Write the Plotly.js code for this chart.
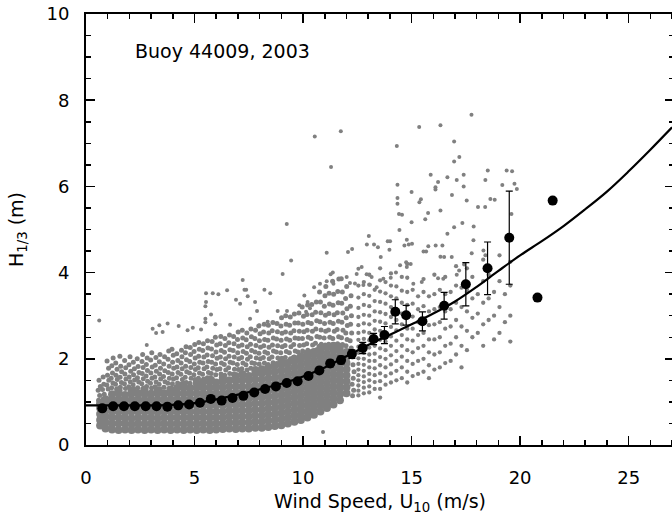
<!DOCTYPE html>
<html>
<head>
<meta charset="utf-8">
<script src="https://cdn.plot.ly/plotly-3.0.1.min.js"></script>
<style>html,body{margin:0;padding:0;background:#fff;overflow:hidden;}#chart{width:674px;height:524px;}</style>
</head>
<body>
<div id="chart"></div>
<script>
// ---- Binned means (black dots) with error bars ----
const binU = [0.75,1.25,1.75,2.25,2.75,3.25,3.75,4.25,4.75,5.25,5.75,6.25,6.75,7.25,7.75,8.25,8.75,9.25,9.75,10.25,10.75,11.25,11.75,12.25,12.75,13.25,13.75,14.25,14.75,15.5,16.5,17.5,18.5,19.5,20.8,21.5];
const binH = [0.85,0.90,0.90,0.90,0.90,0.90,0.89,0.92,0.94,0.98,1.07,1.03,1.09,1.14,1.22,1.30,1.36,1.44,1.48,1.60,1.73,1.89,1.97,2.11,2.25,2.46,2.55,3.09,3.01,2.87,3.23,3.73,4.10,4.81,3.42,5.67];
const binErr = [0.03,0.02,0.02,0.02,0.02,0.02,0.02,0.02,0.02,0.02,0.02,0.03,0.03,0.03,0.03,0.04,0.04,0.05,0.05,0.06,0.07,0.08,0.09,0.10,0.13,0.13,0.20,0.28,0.23,0.22,0.31,0.50,0.61,1.08,0,0];

// ---- Fitted curve ----
const fitU = [0,1,2,3,4,5,6,7,8,9,10,11,12,13,14,15,16,17,18,19,20,21,22,23,24,25,26,27];
const fitH = [0.92,0.92,0.92,0.92,0.93,0.97,1.06,1.17,1.29,1.42,1.59,1.80,2.06,2.32,2.56,2.80,3.05,3.33,3.67,4.04,4.40,4.73,5.08,5.47,5.88,6.35,6.85,7.37];

// ---- Scatter cloud: dense core (columns of wind speed -> wave heights) ----
const coreCols = [0.65,0.9,1.2,1.5,1.8,2.1,2.4,2.7,3.0,3.3,3.6,3.9,4.2,4.5,4.8,5.1,5.4,5.7,6.0,6.3,6.6,6.9,7.2,7.5,7.8,8.1,8.4,8.7,9.0,9.3,9.6,9.9,10.2,10.5,10.8,11.1,11.4,11.7,12.0];
const coreYs = [
 [0.45,0.58,0.72,0.86,0.97],
 [0.38,0.52,0.66,0.8,0.95,1.06],
 [0.36,0.49,0.63,0.77,0.91,1.05,1.18],
 [0.35,0.5,0.64,0.78,0.92,1.06,1.2,1.27],
 [0.36,0.5,0.63,0.76,0.9,1.04,1.16],
 [0.35,0.48,0.62,0.77,0.91,1.05,1.19,1.26],
 [0.36,0.5,0.64,0.78,0.92,1.06,1.2],
 [0.35,0.49,0.63,0.77,0.9,1.04,1.18,1.28],
 [0.36,0.5,0.64,0.78,0.92,1.06,1.19],
 [0.35,0.49,0.62,0.76,0.9,1.05,1.19,1.27],
 [0.36,0.5,0.64,0.78,0.92,1.06,1.2],
 [0.35,0.49,0.63,0.77,0.91,1.05,1.19,1.29],
 [0.36,0.5,0.64,0.78,0.92,1.06,1.2,1.32],
 [0.35,0.49,0.63,0.77,0.91,1.05,1.19,1.33,1.4],
 [0.36,0.5,0.64,0.78,0.92,1.06,1.2,1.32],
 [0.35,0.49,0.63,0.77,0.91,1.05,1.19,1.33,1.44],
 [0.36,0.5,0.64,0.78,0.92,1.06,1.2,1.34,1.46],
 [0.35,0.49,0.63,0.77,0.91,1.05,1.19,1.33,1.47,1.52],
 [0.36,0.5,0.64,0.78,0.92,1.06,1.2,1.34,1.45],
 [0.37,0.5,0.64,0.78,0.92,1.06,1.2,1.34,1.48,1.56],
 [0.38,0.52,0.66,0.8,0.94,1.08,1.22,1.36,1.5],
 [0.37,0.51,0.65,0.79,0.93,1.07,1.21,1.35,1.49,1.6],
 [0.38,0.52,0.66,0.8,0.94,1.08,1.22,1.36,1.5,1.64],
 [0.38,0.52,0.66,0.8,0.94,1.08,1.22,1.36,1.5,1.6],
 [0.4,0.54,0.68,0.82,0.96,1.1,1.24,1.38,1.52,1.66,1.74],
 [0.4,0.54,0.68,0.82,0.96,1.1,1.24,1.38,1.52,1.66,1.76],
 [0.42,0.56,0.7,0.84,0.98,1.12,1.26,1.4,1.54,1.68,1.8],
 [0.44,0.58,0.72,0.86,1.0,1.14,1.28,1.42,1.56,1.7,1.84],
 [0.46,0.6,0.74,0.88,1.02,1.16,1.3,1.44,1.58,1.72,1.86,1.94],
 [0.5,0.64,0.78,0.92,1.06,1.2,1.34,1.48,1.62,1.76,1.9],
 [0.54,0.68,0.82,0.96,1.1,1.24,1.38,1.52,1.66,1.8,1.94,2.0],
 [0.58,0.72,0.86,1.0,1.14,1.28,1.42,1.56,1.7,1.84,1.98,2.06],
 [0.64,0.78,0.92,1.06,1.2,1.34,1.48,1.62,1.76,1.9,2.04,2.12],
 [0.7,0.84,0.98,1.12,1.26,1.4,1.54,1.68,1.82,1.96,2.1,2.16],
 [0.78,0.92,1.06,1.2,1.34,1.48,1.62,1.76,1.9,2.04,2.18,2.26],
 [0.86,1.0,1.14,1.28,1.42,1.56,1.7,1.84,1.98,2.12,2.26],
 [0.94,1.08,1.22,1.36,1.5,1.64,1.78,1.92,2.06,2.2,2.3],
 [1.04,1.18,1.32,1.46,1.6,1.74,1.88,2.02,2.16,2.28],
 [1.2,1.34,1.48,1.62,1.76,1.9,2.04,2.16]
];

// ---- Scatter cloud: speckled fringe above the core (U, H pairs) ----
const frU = [0.58,0.63,0.56,0.66,0.6, 0.78,0.84,0.76,0.82,0.79, 1.02,0.96,1.05,0.99,1.04,0.97, 1.18,1.24,1.16,1.22,1.19,1.25, 1.41,1.36,1.44,1.38,1.43,1.37, 1.58,1.63,1.57,1.64,1.6,1.56, 1.82,1.77,1.84,1.79,1.83,1.78, 1.97,2.04,1.99,2.06,1.98,2.03, 2.21,2.17,2.24,2.19,2.23,2.18, 2.38,2.43,2.37,2.44,2.4,2.36, 2.62,2.57,2.64,2.59,2.63,2.58,2.61, 2.79,2.84,2.77,2.83,2.78,2.82, 3.02,2.97,3.04,2.99,3.05,2.98,3.03, 3.18,3.23,3.17,3.24,3.19,3.22, 3.42,3.37,3.44,3.39,3.43,3.38,3.41, 3.59,3.64,3.57,3.63,3.58,3.62, 3.82,3.77,3.84,3.79,3.83,3.78,3.81, 3.98,4.03,3.97,4.04,3.99,4.02,3.96, 4.22,4.17,4.24,4.19,4.23,4.18, 4.39,4.44,4.37,4.43,4.38,4.42,4.4, 4.62,4.57,4.64,4.59,4.63,4.58,4.61, 4.79,4.84,4.77,4.83,4.78,4.82,4.8, 5.02,4.97,5.04,4.99,5.03,4.98,5.01, 5.18,5.23,5.17,5.24,5.19,5.22,5.2, 5.42,5.37,5.44,5.39,5.43,5.38,5.41, 5.59,5.64,5.57,5.63,5.58,5.62,5.6, 5.82,5.77,5.84,5.79,5.83,5.78,5.81, 5.98,6.03,5.97,6.04,5.99,6.02,5.96, 6.22,6.17,6.24,6.19,6.23,6.18,6.21, 6.39,6.44,6.37,6.43,6.38,6.42,6.4, 6.62,6.57,6.64,6.59,6.63,6.58,6.61, 6.79,6.84,6.77,6.83,6.78,6.82,6.8, 7.02,6.97,7.04,6.99,7.03,6.98,7.01, 7.18,7.23,7.17,7.24,7.19,7.22,7.2, 7.42,7.37,7.44,7.39,7.43,7.38,7.41, 7.59,7.64,7.57,7.63,7.58,7.62,7.6, 7.82,7.77,7.84,7.79,7.83,7.78,7.81, 7.98,8.03,7.97,8.04,7.99,8.02,7.96, 8.22,8.17,8.24,8.19,8.23,8.18,8.21, 8.39,8.44,8.37,8.43,8.38,8.42,8.4, 8.62,8.57,8.64,8.59,8.63,8.58,8.61, 8.79,8.84,8.77,8.83,8.78,8.82,8.8, 9.02,8.97,9.04,8.99,9.03,8.98,9.01, 9.18,9.23,9.17,9.24,9.19,9.22,9.2, 9.42,9.37,9.44,9.39,9.43,9.38,9.41, 9.59,9.64,9.57,9.63,9.58,9.62,9.6, 9.82,9.77,9.84,9.79,9.83,9.78,9.81, 9.98,10.03,9.97,10.04,9.99,10.02,9.96, 10.22,10.17,10.24,10.19,10.23,10.18,10.21, 10.39,10.44,10.37,10.43,10.38,10.42,10.4, 10.62,10.57,10.64,10.59,10.63,10.58,10.61, 10.79,10.84,10.77,10.83,10.78,10.82,10.8,10.76, 11.02,10.97,11.04,10.99,11.03,10.98,11.01,11.05, 11.18,11.23,11.17,11.24,11.19,11.22,11.2, 11.42,11.37,11.44,11.39,11.43,11.38,11.41,11.36, 11.59,11.64,11.57,11.63,11.58,11.62,11.6,11.65, 11.82,11.77,11.84,11.79,11.83,11.78,11.81,11.76, 11.98,12.03,11.97,12.04,11.99,12.02,11.96,12.01, 12.22,12.17,12.24,12.19,12.23,12.18,12.21, 12.28,12.33,12.26,12.31,12.35,12.3,12.27];
const frH = [1.04,1.15,1.27,1.36,1.5, 1.06,1.18,1.29,1.41,1.58, 1.3,1.39,1.5,1.62,1.78,1.95, 1.33,1.44,1.55,1.67,1.84,2.02, 1.3,1.41,1.52,1.62,1.76,1.9, 1.34,1.45,1.57,1.7,1.83,2.06, 1.31,1.42,1.53,1.65,1.79,1.96, 1.35,1.47,1.58,1.71,1.86,2.05, 1.3,1.4,1.51,1.63,1.77,1.92, 1.33,1.46,1.56,1.68,1.82,2.0, 1.31,1.42,1.54,1.66,1.8,1.94,2.1, 1.36,1.48,1.6,1.73,1.87,2.02, 1.32,1.43,1.55,1.67,1.81,1.97,2.14, 1.35,1.46,1.58,1.71,1.85,2.03, 1.3,1.41,1.53,1.65,1.78,1.93,2.1, 1.34,1.47,1.59,1.72,1.88,2.05, 1.31,1.43,1.55,1.68,1.83,1.99,2.18, 1.42,1.53,1.65,1.78,1.92,2.08,2.22, 1.44,1.56,1.68,1.81,1.96,2.12, 1.41,1.52,1.64,1.77,1.9,2.05,2.2, 1.45,1.57,1.7,1.83,1.98,2.14,2.28, 1.43,1.55,1.67,1.8,1.94,2.1,2.26, 1.52,1.63,1.75,1.88,2.02,2.17,2.33, 1.55,1.67,1.79,1.92,2.06,2.22,2.38, 1.53,1.64,1.77,1.9,2.04,2.19,2.35, 1.56,1.68,1.81,1.94,2.09,2.25,2.42, 1.54,1.66,1.78,1.92,2.07,2.23,2.4, 1.63,1.75,1.88,2.01,2.16,2.32,2.5, 1.65,1.77,1.9,2.04,2.19,2.35,2.52, 1.62,1.74,1.87,2.0,2.15,2.31,2.47, 1.66,1.79,1.92,2.06,2.21,2.37,2.55, 1.64,1.76,1.9,2.04,2.19,2.35,2.52, 1.75,1.87,2.0,2.14,2.29,2.45,2.62, 1.77,1.9,2.03,2.17,2.32,2.48,2.66, 1.74,1.86,1.99,2.13,2.28,2.44,2.6, 1.78,1.91,2.05,2.19,2.34,2.51,2.69, 1.76,1.89,2.02,2.16,2.31,2.47,2.66, 1.88,2.0,2.13,2.27,2.42,2.58,2.76, 1.9,2.03,2.16,2.3,2.45,2.62,2.8, 1.87,2.0,2.13,2.27,2.43,2.6,2.78, 1.91,2.04,2.18,2.32,2.48,2.65,2.84, 1.89,2.02,2.16,2.3,2.46,2.63,2.82, 2.01,2.14,2.28,2.43,2.59,2.76,2.95, 2.03,2.17,2.31,2.46,2.62,2.8,3.0, 2.0,2.14,2.28,2.43,2.6,2.78,2.97, 2.04,2.18,2.33,2.48,2.65,2.83,3.04, 2.02,2.16,2.31,2.47,2.64,2.83,3.06, 2.18,2.32,2.47,2.63,2.8,2.99,3.2, 2.2,2.35,2.5,2.66,2.84,3.03,3.25, 2.17,2.32,2.47,2.64,2.82,3.02,3.26, 2.21,2.36,2.52,2.69,2.88,3.08,3.32, 2.19,2.34,2.5,2.67,2.86,3.07,3.32,3.55, 2.32,2.48,2.64,2.82,3.01,3.22,3.46,3.68, 2.34,2.5,2.67,2.85,3.05,3.27,3.52, 2.31,2.47,2.64,2.82,3.02,3.24,3.5,3.8, 2.35,2.51,2.68,2.87,3.07,3.3,3.56,3.85, 2.33,2.49,2.66,2.85,3.06,3.29,3.55,3.86, 2.3,2.45,2.6,2.77,2.95,3.16,3.4,3.68, 2.25,2.42,2.6,2.8,3.0,3.22,3.46, 1.14,1.27,1.41,1.55,1.7,1.86,2.04];

// ---- Scatter cloud: high-wind part (thinner) ----
const upperCols = [12.55,12.8,13.05,13.3,13.55,13.8,14.05,14.3,14.55,14.8,15.05,15.3,15.55,15.8,16.05,16.3,16.55,16.8,17.05,17.3,17.55,17.8,18.05,18.3,18.55,18.8,19.05,19.3,19.55];
const upperYs = [
 [1.15,1.26,1.38,1.5,1.62,1.75,1.88,2.01,2.14,2.28,2.44,2.6,2.78,2.97,3.18,3.42,3.7],
 [1.2,1.33,1.46,1.59,1.72,1.86,2.0,2.14,2.3,2.46,2.63,2.82,3.02,3.25,3.5,3.78],
 [1.22,1.36,1.5,1.65,1.8,1.95,2.1,2.26,2.43,2.6,2.8,3.0,3.22,3.46,3.72,3.95],
 [1.3,1.46,1.62,1.78,1.95,2.12,2.3,2.48,2.68,2.88,3.1,3.34,3.6],
 [1.1,1.3,1.48,1.66,1.85,2.04,2.24,2.44,2.65,2.86,3.08,3.32,3.56,3.82,4.1],
 [1.4,1.6,1.8,2.0,2.2,2.4,2.6,2.82,3.04,3.28,3.52,3.78],
 [1.45,1.66,1.87,2.08,2.3,2.52,2.74,2.97,3.2,3.45,3.7,3.98],
 [1.5,1.72,1.95,2.18,2.42,2.66,2.9,3.15,3.4,3.68],
 [1.55,1.8,2.05,2.3,2.55,2.8,3.05,3.3,3.58,3.9],
 [1.45,1.7,1.95,2.2,2.45,2.7,2.98,3.25,3.55,3.88,4.2],
 [1.6,1.88,2.15,2.42,2.7,2.98,3.28,3.6],
 [1.65,1.95,2.25,2.55,2.85,3.15,3.45],
 [1.7,2.0,2.3,2.6,2.9,3.22,3.55,3.85],
 [1.55,1.85,2.15,2.45,2.78,3.1,3.45],
 [1.75,2.1,2.45,2.8,3.15,3.5,3.95],
 [1.8,2.15,2.5,2.85,3.2,3.6],
 [1.9,2.3,2.7,3.1,3.5,3.9],
 [1.95,2.35,2.75,3.15,3.55],
 [2.1,2.5,2.9,3.3,3.7,4.15],
 [1.8,2.3,2.75,3.2,3.65],
 [2.2,2.65,3.1,3.6,4.1],
 [2.5,2.95,3.4,3.9],
 [2.6,3.05,3.5],
 [2.3,2.8,3.3,3.8,4.3],
 [2.9,3.4,3.95],
 [2.45,3.0,3.55],
 [2.6,3.2,3.8,4.4],
 [2.85,3.5],
 [2.4,3.0,3.7,4.25]
];

// ---- Scattered single observations ----
const outU = [10.54,11.74,11.29,14.32,15.35,16.33,17.76,16.96,16.96,17.2,14.35,14.35,14.35,15.0,15.36,15.43,15.88,16.1,16.1,16.22,16.65,17.08,17.4,17.4,16.86,16.33,17.54,18.06,18.39,18.51,18.4,18.63,18.83,19.18,19.38,19.63,19.74,19.85,14.42,14.56,15.0,15.63,15.76,14.44,15.02,16.96,17.34,17.86,16.65,11.09,12.07,12.26,13.03,12.94,13.27,13.45,14.01,13.9,13.58,13.98,14.67,14.87,14.78,15.55,15.67,15.77,16.11,16.42,16.33,16.5,16.22,16.46,16.85,17.77,17.85,17.19,17.08,11.37,11.27,11.09,11.4,12.01,12.16,12.55,12.7,12.93,12.47,13.16,13.7,14.04,14.28,14.75,14.78,14.96,15.08,15.47,14.47,13.39,13.08,12.39,12.78,10.51,10.78,19.6,18.31,18.4,17.42,17.54,0.61,9.45,9.06,7.22,7.3,7.38,8.22,8.49,6.5,5.53,5.84,6.1,5.53,5.5,5.76,5.5,5.5,6.91,7.1,7.45,7.79,7.88,8.83,9.26,3.07,3.38,3.53,3.23,4.27,2.8,4.68,4.92,5.3,5.96,6.64,7.56,7.99,8.37,10.06,10.21,10.32,9.83,10.14,3.76,9.25,10.92];
const outH = [7.16,7.28,6.45,6.94,7.38,7.42,7.66,7.04,6.58,6.68,6.04,5.73,5.6,5.87,5.63,5.7,6.27,5.98,5.93,6.1,6.21,6.15,6.27,6.0,5.8,5.44,5.67,5.52,5.52,6.37,6.15,5.71,5.69,6.03,6.37,6.35,6.06,5.94,5.36,5.34,5.17,5.24,5.38,4.99,4.67,5.05,5.15,5.07,4.9,4.46,4.48,4.55,4.85,4.65,4.65,4.59,4.73,4.73,4.36,4.53,4.63,4.65,4.76,4.49,4.49,4.61,4.63,4.63,4.37,4.36,3.87,3.86,4.36,4.45,4.75,4.05,3.95,4.0,3.96,3.8,3.74,3.9,3.76,4.09,4.13,3.96,3.97,3.9,3.86,3.88,4.0,4.24,4.13,4.2,3.74,3.78,4.17,3.66,3.72,3.75,3.71,3.66,3.74,5.36,4.51,4.4,4.19,3.55,2.89,4.28,3.97,3.83,3.6,3.6,3.6,3.52,3.59,3.52,3.52,3.5,3.32,3.22,3.03,2.93,2.85,3.37,3.28,3.45,3.32,3.11,3.11,3.11,2.7,2.78,2.62,2.6,2.76,2.32,2.66,2.72,2.68,2.8,2.79,2.93,2.78,2.86,3.47,3.32,3.17,3.24,3.09,2.82,5.13,0.3];

// ---- Axis ticks ----
const xTickVals = [0,5,10,15,20,25];
const yTickVals = [0,2,4,6,8,10];

function flatten(cols, ys) {
  const X = [], Y = [];
  cols.forEach((c, i) => ys[i].forEach(v => { X.push(c); Y.push(v); }));
  return [X, Y];
}
const [coreX, coreY] = flatten(coreCols, coreYs);
const [upX, upY] = flatten(upperCols, upperYs);

const gray = 'rgb(128,128,128)';
const FONT = 'DejaVu Sans, Arial, sans-serif';

const traces = [
  {x: coreX, y: coreY, type: 'scatter', mode: 'markers', marker: {color: gray, size: 8}, hoverinfo: 'skip', showlegend: false},
  {x: frU, y: frH, type: 'scatter', mode: 'markers', marker: {color: gray, size: 5}, hoverinfo: 'skip', showlegend: false},
  {x: upX, y: upY, type: 'scatter', mode: 'markers', marker: {color: gray, size: 4.3}, hoverinfo: 'skip', showlegend: false},
  {x: outU, y: outH, type: 'scatter', mode: 'markers', marker: {color: gray, size: 4}, hoverinfo: 'skip', showlegend: false},
  {x: fitU, y: fitH, type: 'scatter', mode: 'lines', line: {color: 'black', width: 2.2, shape: 'spline', smoothing: 1}, showlegend: false},
  {x: binU, y: binH, type: 'scatter', mode: 'markers', marker: {color: 'black', size: 10},
   error_y: {type: 'data', array: binErr, visible: true, color: 'black', thickness: 1.2, width: 3.5}, showlegend: false}
];

const axisCommon = {
  showline: true, linecolor: 'black', linewidth: 2, mirror: 'ticks',
  ticks: 'inside', ticklen: 9, tickwidth: 1.5, tickcolor: 'black',
  showgrid: false, zeroline: false,
  tickfont: {family: FONT, size: 18, color: 'black'}
};

const layout = {
  width: 674, height: 524,
  margin: {l: 86, r: 0, t: 14, b: 79},
  paper_bgcolor: 'white', plot_bgcolor: 'white',
  font: {family: FONT, color: 'black'},
  xaxis: Object.assign({}, axisCommon, {
    range: [0, 27.09], tickvals: xTickVals, ticklabelstandoff: 15,
    minor: {dtick: 1, tick0: 0, ticks: 'inside', ticklen: 5, tickwidth: 1.5, tickcolor: 'black', showgrid: false},
    title: {text: 'Wind Speed, U<sub>10</sub> (m/s)', font: {family: FONT, size: 19, color: 'black'}, standoff: 8}
  }),
  yaxis: Object.assign({}, axisCommon, {
    range: [0, 10], tickvals: yTickVals, ticklabelstandoff: 11,
    minor: {dtick: 0.5, tick0: 0, ticks: 'inside', ticklen: 5, tickwidth: 1.5, tickcolor: 'black', showgrid: false},
    title: {text: 'H<sub>1/3</sub> (m)', font: {family: FONT, size: 19, color: 'black'}, standoff: 18}
  }),
  annotations: [{
    x: 2.17, y: 9.15, xref: 'x', yref: 'y', xanchor: 'left', yanchor: 'middle',
    text: 'Buoy 44009, 2003', showarrow: false, font: {family: FONT, size: 19, color: 'black'}
  }],
  showlegend: false
};

Plotly.newPlot('chart', traces, layout, {displayModeBar: false, staticPlot: true});
</script>
</body>
</html>
